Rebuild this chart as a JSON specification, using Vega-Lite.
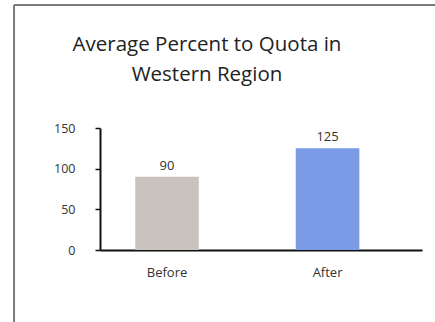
{
  "$schema": "https://vega.github.io/schema/vega-lite/v6.json",
  "width": 322,
  "height": 122,
  "autosize": {"type": "none"},
  "padding": {"left": 100, "top": 128, "right": 13, "bottom": 72},
  "background": "white",
  "config": {
    "view": {"stroke": null},
    "font": "Open Sans"
  },
  "title": {
    "text": ["Average Percent to Quota in", "Western Region"],
    "fontSize": 20.5,
    "fontWeight": "normal",
    "color": "#222222",
    "lineHeight": 30,
    "anchor": "middle",
    "dx": -54,
    "offset": -81
  },
  "datasets": {
    "quota": [
      {"period": "Before", "percent": 90},
      {"period": "After", "percent": 125}
    ]
  },
  "layer": [
    {
      "data": {"values": [{}]},
      "layer": [
        {
          "mark": {"type": "rule", "color": "#7a7a7a", "strokeWidth": 2},
          "encoding": {
            "x": {"datum": -0.267, "type": "quantitative", "scale": {"domain": [0, 1]}, "axis": null},
            "y": {"datum": 2.008, "type": "quantitative", "scale": {"domain": [0, 1]}, "axis": null},
            "y2": {"datum": -0.7}
          }
        },
        {
          "mark": {"type": "rule", "color": "#7a7a7a", "strokeWidth": 2},
          "encoding": {
            "x": {"datum": -0.267, "type": "quantitative", "scale": {"domain": [0, 1]}, "axis": null},
            "x2": {"datum": 1.2},
            "y": {"datum": 2.008, "type": "quantitative", "scale": {"domain": [0, 1]}, "axis": null}
          }
        }
      ]
    },
    {
      "data": {"name": "quota"},
      "encoding": {
        "x": {
          "field": "period",
          "type": "nominal",
          "sort": ["Before", "After"],
          "scale": {"paddingInner": 0.604, "paddingOuter": 0.305, "align": 0.36},
          "axis": {
            "title": null,
            "labelAngle": 0,
            "ticks": false,
            "domainColor": "#111111",
            "domainWidth": 2,
            "labelFontSize": 13,
            "labelColor": "#333333",
            "labelPadding": 16
          }
        },
        "y": {
          "field": "percent",
          "type": "quantitative",
          "scale": {"domain": [0, 150], "nice": false},
          "axis": {
            "title": null,
            "values": [0, 50, 100, 150],
            "grid": false,
            "domainColor": "#111111",
            "domainWidth": 2,
            "tickColor": "#111111",
            "tickWidth": 1.5,
            "tickSize": 5,
            "labelFontSize": 12.5,
            "labelColor": "#333333",
            "labelPadding": 20
          }
        }
      },
      "layer": [
        {
          "mark": {"type": "bar"},
          "encoding": {
            "color": {
              "field": "period",
              "type": "nominal",
              "scale": {"domain": ["Before", "After"], "range": ["#c8c4bd", "#7b9be6"]},
              "legend": null
            }
          }
        },
        {
          "mark": {"type": "text", "baseline": "bottom", "dy": -4, "fontSize": 13, "color": "#333333"},
          "encoding": {
            "text": {"field": "percent", "type": "quantitative"}
          }
        }
      ]
    }
  ],
  "resolve": {
    "scale": {"x": "independent", "y": "independent"},
    "axis": {"x": "independent", "y": "independent"}
  }
}
